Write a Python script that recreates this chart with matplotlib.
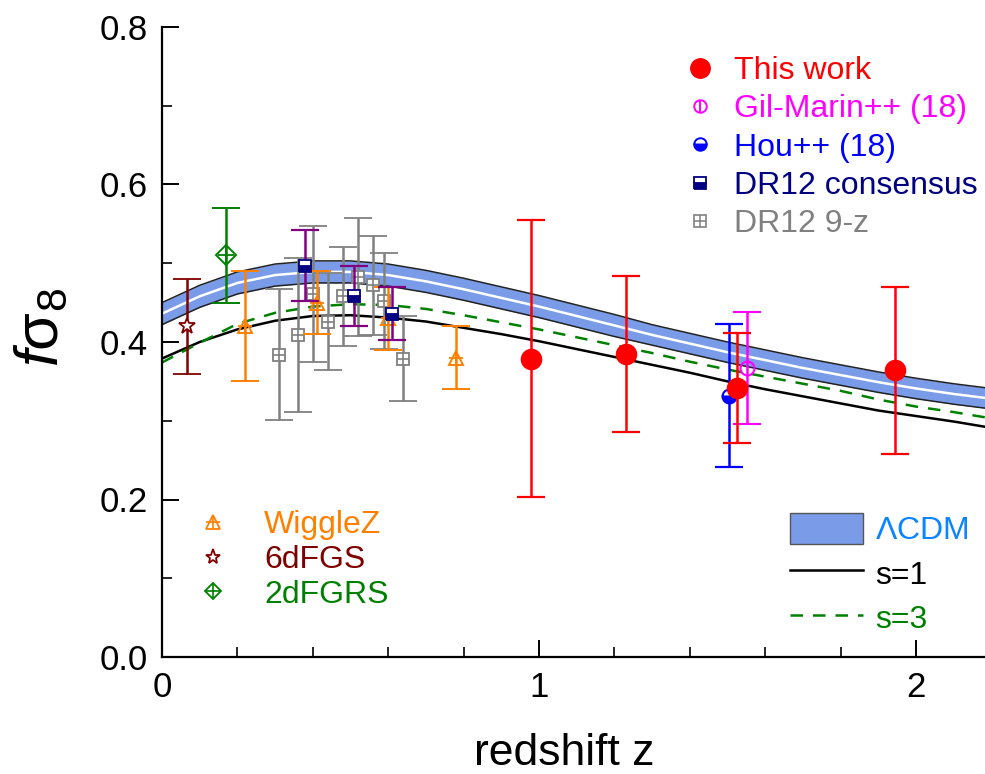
import matplotlib
matplotlib.use('Agg')
import matplotlib.pyplot as plt
from matplotlib.lines import Line2D
from matplotlib.patches import Patch
from matplotlib.ticker import MultipleLocator
from matplotlib.legend_handler import HandlerTuple

plt.rcParams['font.family'] = ['Liberation Sans', 'DejaVu Sans']
plt.rcParams['mathtext.fontset'] = 'custom'
plt.rcParams['mathtext.rm'] = 'Liberation Sans'
plt.rcParams['mathtext.it'] = 'Liberation Sans:italic'

# ---------------- data ----------------
this_z = [0.978, 1.230, 1.526, 1.944]
this_f = [0.379, 0.385, 0.342, 0.364]
this_e = [0.176, 0.099, 0.070, 0.106]

gm_z = [1.552]
gm_f = [0.367]
gm_e = [0.071]

hou_z = [1.504]
hou_f = [0.332]
hou_e = [0.091]

cons_z = [0.38, 0.51, 0.61]
cons_f = [0.497, 0.458, 0.436]
cons_e = [0.045, 0.038, 0.034]

nz_z = [0.31, 0.36, 0.40, 0.44, 0.48, 0.52, 0.56, 0.59, 0.64]
nz_f = [0.384, 0.409, 0.461, 0.426, 0.458, 0.483, 0.472, 0.452, 0.379]
nz_e = [0.083, 0.098, 0.086, 0.062, 0.063, 0.075, 0.063, 0.061, 0.054]

wig_z = [0.22, 0.41, 0.60, 0.78]
wig_f = [0.42, 0.45, 0.43, 0.38]
wig_e = [0.07, 0.04, 0.04, 0.04]

six_z = [0.067]
six_f = [0.42]
six_e = [0.06]

two_z = [0.17]
two_f = [0.51]
two_e = [0.06]

theory_z = [0.0, 0.1, 0.2, 0.3, 0.4, 0.5, 0.6, 0.7, 0.8, 0.9, 1.0, 1.1,
            1.2, 1.3, 1.4, 1.5, 1.6, 1.7, 1.8, 1.9, 2.0, 2.1, 2.2]
lcdm_mid = [0.436, 0.458, 0.475, 0.485, 0.489, 0.489, 0.485, 0.477, 0.467, 0.456, 0.445, 0.433,
            0.421, 0.409, 0.398, 0.387, 0.377, 0.367, 0.358, 0.349, 0.341, 0.334, 0.328]
lcdm_hi = [0.450, 0.472, 0.489, 0.499, 0.503, 0.503, 0.499, 0.491, 0.481, 0.470, 0.459, 0.447,
           0.435, 0.422, 0.411, 0.400, 0.390, 0.380, 0.371, 0.362, 0.354, 0.347, 0.341]
lcdm_lo = [0.422, 0.444, 0.461, 0.471, 0.475, 0.475, 0.471, 0.463, 0.453, 0.442, 0.431, 0.419,
           0.407, 0.396, 0.385, 0.374, 0.364, 0.354, 0.345, 0.336, 0.328, 0.321, 0.315]
s1_f = [0.379, 0.400, 0.416, 0.427, 0.433, 0.434, 0.431, 0.426, 0.418, 0.410, 0.401, 0.391,
        0.381, 0.371, 0.361, 0.350, 0.340, 0.331, 0.322, 0.313, 0.306, 0.299, 0.291]
s3_f = [0.374, 0.399, 0.423, 0.437, 0.445, 0.448, 0.447, 0.442, 0.434, 0.425, 0.416, 0.406,
        0.396, 0.386, 0.375, 0.365, 0.356, 0.347, 0.338, 0.327, 0.318, 0.311, 0.303]

# ---------------- colours ----------------
C_RED = '#ff0000'
C_MAG = '#ff00ff'
C_BLUE = '#0000ff'
C_NAVY = '#000080'
C_PURP = '#800080'
C_GRAY = '#808080'
C_ORANGE = '#ff8000'
C_DRED = '#800000'
C_GREEN = '#008000'
C_BAND = '#7a9ce8'
C_LCDM = '#0a84ff'

fig = plt.figure(figsize=(9.85, 7.74), dpi=100)
ax = fig.add_axes([162 / 985, 1 - 657 / 774, 1 - 162 / 985, (657 - 27) / 774])

# theory
ax.fill_between(theory_z, lcdm_lo, lcdm_hi, color=C_BAND, lw=0, zorder=1)
ax.plot(theory_z, lcdm_hi, color='#222222', lw=1.1, zorder=1.2)
ax.plot(theory_z, lcdm_lo, color='#222222', lw=1.1, zorder=1.2)
ax.plot(theory_z, lcdm_mid, color='white', lw=1.8, zorder=1.3)
ax.plot(theory_z, s1_f, color='black', lw=1.8, zorder=2)
ax.plot(theory_z, s3_f, color=C_GREEN, lw=1.8, ls=(0, (5, 4)), zorder=2)

eb = dict(capsize=10, capthick=1.6, elinewidth=1.8, ls='none')

# DR12 9-z
ax.errorbar(nz_z, nz_f, yerr=nz_e, fmt='s', color=C_GRAY, mfc='white', mec=C_GRAY,
            ms=9, mew=1.3, zorder=3, **eb)
ax.plot(nz_z, nz_f, ls='none', marker='+', color=C_GRAY, ms=9, mew=1.2, zorder=3.1)

# WiggleZ
ax.errorbar(wig_z, wig_f, yerr=wig_e, fmt='^', color=C_ORANGE, mfc='none', mec=C_ORANGE,
            ms=10, mew=1.4, zorder=3.5, **eb)
ax.plot(wig_z, wig_f, ls='none', marker='+', color=C_ORANGE, ms=10, mew=1.3, zorder=3.6)

# 6dFGS
ax.errorbar(six_z, six_f, yerr=six_e, fmt='*', color=C_DRED, mfc='white', mec=C_DRED,
            ms=12, mew=1.3, zorder=3.5, **eb)

# 2dFGRS
ax.errorbar(two_z, two_f, yerr=two_e, fmt='D', color=C_GREEN, mfc='none', mec=C_GREEN,
            ms=10, mew=1.4, zorder=3.5, **eb)
ax.plot(two_z, two_f, ls='none', marker='+', color=C_GREEN, ms=12, mew=1.3, zorder=3.6)

# DR12 consensus
ax.errorbar(cons_z, cons_f, yerr=cons_e, fmt='none', ecolor=C_PURP, zorder=4, **eb)
ax.plot(cons_z, cons_f, ls='none', marker='s', fillstyle='bottom', mfc=C_NAVY,
        markerfacecoloralt='white', mec=C_NAVY, ms=9, mew=1.3, zorder=4.1)

# Hou++
ax.errorbar(hou_z, hou_f, yerr=hou_e, fmt='none', ecolor=C_BLUE, zorder=4, **eb)
ax.plot(hou_z, hou_f, ls='none', marker='o', fillstyle='bottom', mfc=C_BLUE,
        markerfacecoloralt='white', mec=C_BLUE, ms=10, mew=1.5, zorder=4.1)

# Gil-Marin++
ax.errorbar(gm_z, gm_f, yerr=gm_e, fmt='o', color=C_MAG, mfc='none', mec=C_MAG,
            ms=10, mew=1.5, zorder=4.2, **eb)

# This work
ax.errorbar(this_z, this_f, yerr=this_e, fmt='o', color=C_RED, ms=14.5, zorder=5, **eb)

# axes
ax.set_xlim(0, 2.183)
ax.set_ylim(0, 0.8)
ax.xaxis.set_major_locator(MultipleLocator(1))
ax.xaxis.set_minor_locator(MultipleLocator(0.2))
ax.yaxis.set_major_locator(MultipleLocator(0.2))
ax.yaxis.set_minor_locator(MultipleLocator(0.1))
ax.spines['top'].set_visible(False)
ax.spines['right'].set_visible(False)
for s in ('left', 'bottom'):
    ax.spines[s].set_linewidth(1.6)
ax.tick_params(which='major', direction='in', length=12, width=1.4, labelsize=25)
ax.tick_params(which='minor', direction='in', length=7, width=1.2)
ax.tick_params(axis='y', which='major', pad=10)
ax.tick_params(axis='x', which='major', pad=10)

fig.text(564 / 985, 1 - 765 / 774, 'redshift z', ha='center', va='baseline', fontsize=32)
fig.text(42 / 985, 1 - 327 / 774, r'$f\mathrm{\sigma}_8$', rotation=90, ha='center',
         va='center', fontsize=44)

tup = {tuple: HandlerTuple(ndivide=1, pad=0)}

# legend 1 (top right)
h_this = Line2D([], [], ls='none', marker='o', ms=14, color=C_RED)
h_gm = (Line2D([], [], ls='none', marker='o', mfc='none', mec=C_MAG, ms=9, mew=1.4),
        Line2D([], [], ls='none', marker='|', color=C_MAG, ms=9, mew=1.4))
h_hou = Line2D([], [], ls='none', marker='o', fillstyle='bottom', mfc=C_BLUE,
               markerfacecoloralt='white', mec=C_BLUE, ms=9, mew=1.4)
h_cons = Line2D([], [], ls='none', marker='s', fillstyle='bottom', mfc=C_NAVY,
                markerfacecoloralt='white', mec=C_NAVY, ms=8, mew=1.3)
h_nz = (Line2D([], [], ls='none', marker='s', mfc='none', mec=C_GRAY, ms=8, mew=1.2),
        Line2D([], [], ls='none', marker='+', color=C_GRAY, ms=8, mew=1.1))
leg1 = ax.legend([h_this, h_gm, h_hou, h_cons, h_nz],
                 ['This work', 'Gil-Marin++ (18)', 'Hou++ (18)', 'DR12 consensus', 'DR12 9-z'],
                 handler_map=tup,
                 loc='upper left', bbox_to_anchor=((684 - 162) / 823, (657 - 56) / 630),
                 frameon=False, fontsize=23, borderpad=0, borderaxespad=0,
                 handlelength=1.0, handletextpad=0.55, labelspacing=0.26, numpoints=1,
                 labelcolor=[C_RED, C_MAG, C_BLUE, C_NAVY, C_GRAY])
ax.add_artist(leg1)

# legend 2 (bottom left)
h_wig = (Line2D([], [], ls='none', marker='^', mfc='none', mec=C_ORANGE, ms=10, mew=1.3),
         Line2D([], [], ls='none', marker='+', color=C_ORANGE, ms=10, mew=1.2))
h_six = Line2D([], [], ls='none', marker='*', mfc='white', mec=C_DRED, ms=11, mew=1.3)
h_two = (Line2D([], [], ls='none', marker='D', mfc='none', mec=C_GREEN, ms=8, mew=1.3),
         Line2D([], [], ls='none', marker='+', color=C_GREEN, ms=10, mew=1.2))
leg2 = ax.legend([h_wig, h_six, h_two], ['WiggleZ', '6dFGS', '2dFGRS'],
                 handler_map=tup,
                 loc='upper left', bbox_to_anchor=((197 - 162) / 823, (657 - 510) / 630),
                 frameon=False, fontsize=23, borderpad=0, borderaxespad=0,
                 handlelength=1.0, handletextpad=1.1, labelspacing=0.15, numpoints=1,
                 labelcolor=[C_ORANGE, C_DRED, C_GREEN])
ax.add_artist(leg2)

# legend 3 (bottom right)
h_band = Patch(facecolor=C_BAND, edgecolor='#555555', lw=1.0)
h_s1 = Line2D([], [], color='black', lw=1.8)
h_s3 = Line2D([], [], color=C_GREEN, lw=1.8, ls=(0, (5, 4)))
leg3 = ax.legend([h_band, h_s1, h_s3], [r'$\Lambda$CDM', 's=1', 's=3'],
                 loc='upper left', bbox_to_anchor=((790 - 162) / 823, (657 - 513) / 630),
                 frameon=False, fontsize=23, borderpad=0, borderaxespad=0,
                 handlelength=2.27, handleheight=1.1, handletextpad=0.4, labelspacing=0.35,
                 labelcolor=[C_LCDM, 'black', C_GREEN])

fig.savefig('out.png', dpi=100)
